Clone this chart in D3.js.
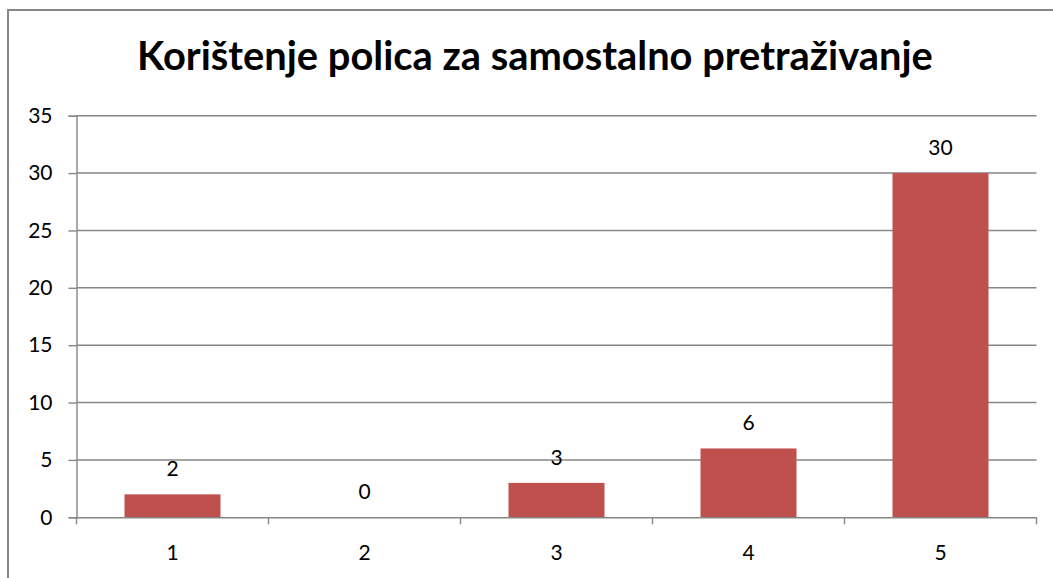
<!DOCTYPE html>
<html><head><meta charset="utf-8">
<script src="https://cdn.jsdelivr.net/npm/d3@7"></script>
<style>body{margin:0;background:#fff}svg{display:block}text{font-family:Lato,"Open Sans",sans-serif}</style>
</head><body><svg id="c" width="1053" height="578"></svg>
<script>
const title = "Korištenje polica za samostalno pretraživanje";
const categories = ["1","2","3","4","5"];
const values = [2,0,3,6,30];
const yTicks = [0,5,10,15,20,25,30,35];

const svg = d3.select("#c");
const m = {left:76.5, right:1036.5, top:115.7, bottom:517.3};
const grid = "#868686";
const fs = 21;

svg.append("rect").attr("x",8).attr("y",10).attr("width",1060).attr("height",600)
  .attr("fill","#fff").attr("stroke",grid).attr("stroke-width",2);

const x = d3.scaleBand().domain(categories).range([m.left,m.right]).paddingInner(0.5).paddingOuter(0.25);
const y = d3.scaleLinear().domain([0,35]).range([m.bottom,m.top]);

// gridlines
svg.append("g").selectAll("line").data(yTicks.filter(d=>d>0)).join("line")
  .attr("x1",m.left).attr("x2",m.right).attr("y1",d=>y(d)).attr("y2",d=>y(d))
  .attr("stroke",grid).attr("stroke-width",1.4);

// y axis
const ya = svg.append("g").attr("transform",`translate(${m.left},0)`)
  .call(d3.axisLeft(y).tickValues(yTicks).tickSize(8).tickPadding(16));
ya.select(".domain").attr("stroke",grid).attr("stroke-width",1.4);
ya.selectAll(".tick line").attr("stroke",grid).attr("stroke-width",1.4);
ya.selectAll("text").attr("font-size",fs).attr("fill","#000").attr("font-family","Lato,sans-serif");

// bars
svg.append("g").selectAll("rect").data(values).join("rect")
  .attr("x",(d,i)=>x(categories[i])).attr("width",x.bandwidth())
  .attr("y",d=>y(d)).attr("height",d=>y(0)-y(d)).attr("fill","#C0504D");

// x axis
const xa = svg.append("g").attr("transform",`translate(0,${m.bottom})`)
  .call(d3.axisBottom(x).tickSize(0).tickPadding(28));
xa.select(".domain").attr("stroke",grid).attr("stroke-width",1.4);
xa.selectAll("text").attr("font-size",fs).attr("fill","#000").attr("font-family","Lato,sans-serif");
// boundary ticks
const bounds = d3.range(categories.length+1).map(i=>m.left+i*(m.right-m.left)/categories.length);
svg.append("g").selectAll("line").data(bounds).join("line")
  .attr("x1",d=>d).attr("x2",d=>d).attr("y1",m.bottom).attr("y2",m.bottom+7)
  .attr("stroke",grid).attr("stroke-width",1.4);

// value labels
svg.append("g").selectAll("text").data(values).join("text")
  .attr("x",(d,i)=>x(categories[i])+x.bandwidth()/2).attr("y",d=>y(d)-18)
  .attr("text-anchor","middle").attr("font-size",fs).attr("fill","#000").text(d=>d);

// title
const t = svg.append("text").attr("x",535).attr("y",70).attr("text-anchor","middle")
  .attr("font-weight","bold").attr("font-size",36).attr("fill","#000").text(title);
const w = t.node().getComputedTextLength();
t.attr("font-size", 36*796/w);
</script></body></html>
